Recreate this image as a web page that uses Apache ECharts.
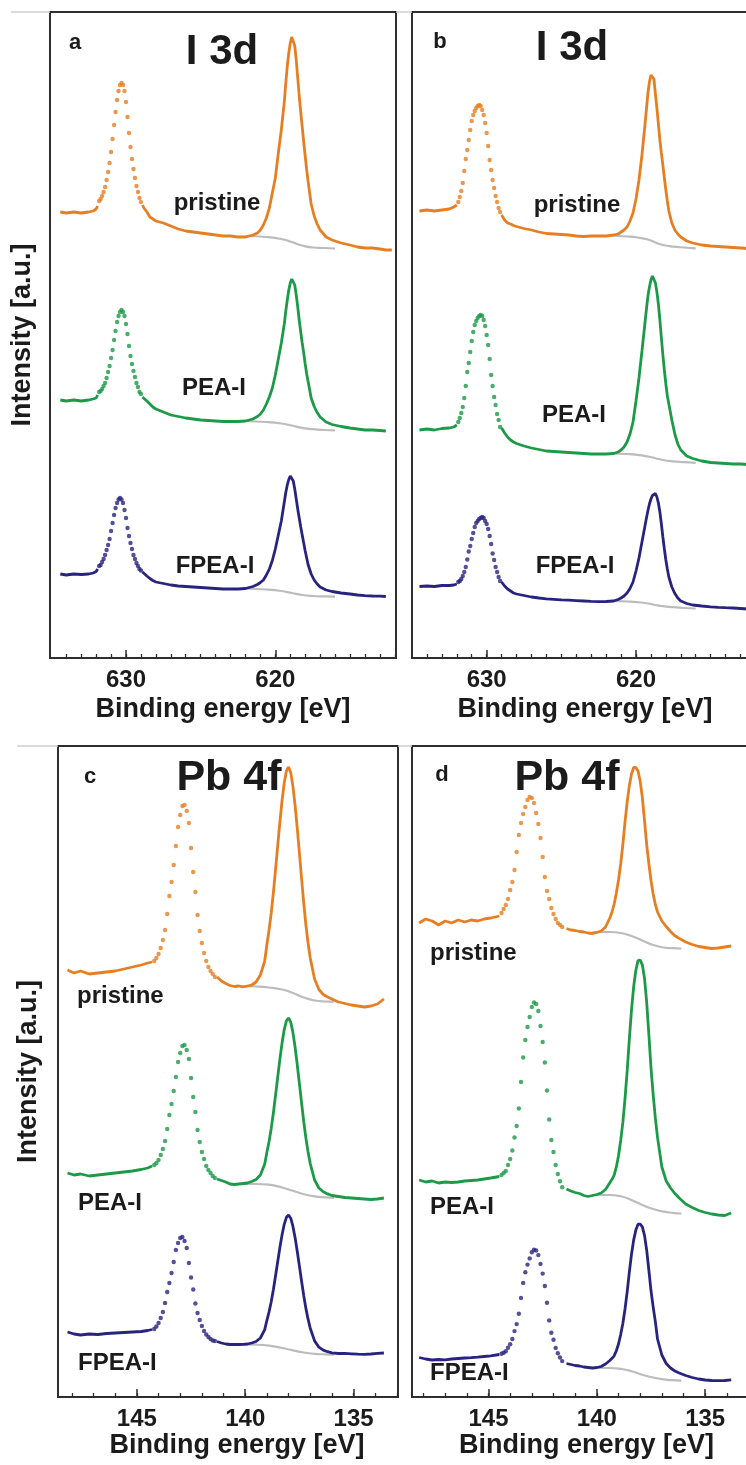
<!DOCTYPE html>
<html><head><meta charset="utf-8">
<script src="https://cdn.jsdelivr.net/npm/echarts@6/dist/echarts.min.js"></script>
<style>html,body{margin:0;padding:0;background:#fff;overflow:hidden;}#c{width:770px;height:1465px;}</style>
</head><body><div id="c"></div>
<script>
// ---------------- Panel a : I 3d ----------------
const aPreE = [634.4, 634.0, 633.5, 633.0, 632.5, 632.2, 632.0, 631.9];
const aPristinePre = [446, 445, 446, 445, 446, 447, 449, 452];
const aPeaPre = [258, 257, 258, 257, 258, 259, 260, 263];
const aFpeaPre = [84, 83, 84, 83.5, 84, 85, 86.5, 89];
const aDotE = [631.8, 631.7, 631.6, 631.5, 631.4, 631.3, 631.2, 631.1, 631.0, 630.9, 630.8, 630.7, 630.6, 630.5, 630.4, 630.3, 630.2, 630.1, 630.0, 629.9, 629.8, 629.7, 629.6, 629.5, 629.4, 629.3, 629.2, 629.1, 629.0];
const aPristineDots = [457,459,462,466,471,478,486,495,506,519,533,546,558,567,573,575,573,567,556,541,525,511,499,489,480,472,466,460,456];
const aPeaDots = [266,267,269,272,275,280,286,292,300,308,318,327,336,342,346,348,346,342,334,324,312,302,294,287,281,275,271,266,264];
const aFpeaDots = [92,93,96,99,103,108,113,119,127,135,143,150,155,158.5,160,158.5,155,148,140,130,122,115,109,103,99,95,92,89,87.5];
const aPostE = [628.9, 628.8, 628.6, 628.4, 628.2, 628.0, 627.5, 627.0, 626.5, 626.0, 625.5, 625.0, 624.5, 624.0, 623.5, 623.0, 622.5, 622.0, 621.5, 621.2, 621.0, 620.8, 620.6, 620.4, 620.2, 620.0, 619.8, 619.6, 619.4, 619.3, 619.2, 619.1, 619.0, 618.9, 618.8, 618.7, 618.6, 618.5, 618.4, 618.3, 618.2, 618.1, 618.0, 617.9, 617.8, 617.6, 617.4, 617.2, 617.0, 616.6, 616.2, 615.6, 615.0, 614.5, 614.0, 613.5, 613.0, 612.6, 612.2];
const aPristinePost = [453,450,446,441,439,437,435,432,429,427,426,425,424,423,422,422,421,421,423,425,428,433,440,450,465,480,505,528,556,575,592,605,615,621,619,612,598,580,562,546,531,516,502,488,476,454,442,434,428,421,418,415,413,411,410,410,409,408,408];
const aPeaPost = [261,259,257,254,251,249,246,243,241.5,240,239,238,237.5,237,236.5,236.5,236.5,237,239,241.5,244,248,254,261,270,283,299,315,334,347,358,368,375,379,378,373,363,351,338,326,315,305,294,284,276,260,251.5,245.5,241,236,233.5,231.5,230,229,228,228,227.5,227,null];
const aFpeaPost = [86,84.5,82,79.5,77.5,76,74.5,73,72,71.5,71,70.5,70,69.5,69,69,69,69.5,71.5,73.5,75.5,78,83,89,97.5,109,123,137,156,165.5,173,178.5,182,181,177,169,159,149,140,131,123,115,107,100,93,84,78,74,71,68,66.5,65,64,63,62.3,62,61.8,61.5,null];
const aBgE = [622.0, 620.6, 619.6, 618.9, 618.2, 617.5, 616.7, 616.0];
const aPristineBg = [422, 421, 419, 416, 412.5, 410.5, 410, 409.5];
const aPeaBg = [237, 236, 234.5, 232.5, 230.2, 228.8, 228, 227.7];
const aFpeaBg = [69.5, 68.5, 67, 65, 63, 62, 61.6, 61.4];

// ---------------- Panel b : I 3d ----------------
const bPreE = [634.5, 634.0, 633.5, 633.0, 632.5, 632.2, 632.0];
const bPristinePre = [447, 448, 447, 448, 449, 451, 453];
const bPeaPre = [228, 229, 228, 229.5, 230, 231, 233];
const bFpeaPre = [71.5, 72, 71.5, 72.5, 72.5, 73, 74];
const bDotE = [631.9, 631.8, 631.7, 631.6, 631.5, 631.4, 631.3, 631.2, 631.1, 631.0, 630.9, 630.8, 630.7, 630.6, 630.5, 630.4, 630.3, 630.2, 630.1, 630.0, 629.9, 629.8, 629.7, 629.6, 629.5, 629.4, 629.3, 629.2, 629.1];
const bPristineDots = [456,461,467,475,487,499,508,518,528,537,543,547,550,552,553,552,548,543,535,525,512,498,488,478,470,462,456,450,446];
const bPeaDots = [236,240,245,251,260,272,286,295,306,317,326,333,337,340,342,343,342,338,332,323,313,299,283,272,261,253,244,238,231];
const bFpeaDots = [76,77,79,82,86,91,98.5,106.5,112,119,125,131,135,137,139,140,141,140,137,134,129,122,114,104.5,98,91,86,81,77];
const bPostE = [629.0, 628.8, 628.6, 628.4, 628.2, 628.0, 627.5, 627.0, 626.5, 626.0, 625.5, 625.0, 624.5, 624.0, 623.5, 623.0, 622.5, 622.0, 621.5, 621.2, 621.0, 620.8, 620.6, 620.4, 620.2, 620.0, 619.8, 619.6, 619.4, 619.3, 619.2, 619.1, 619.0, 618.9, 618.8, 618.7, 618.6, 618.5, 618.4, 618.3, 618.2, 618.1, 618.0, 617.9, 617.8, 617.6, 617.4, 617.2, 617.0, 616.6, 616.2, 615.6, 615.0, 614.5, 614.0, 613.5, 613.0, 612.5, 612.0, 611.7];
const bPristinePost = [443,438,435,434,432.5,431.5,429.5,428,426,424.5,424,423.5,423,422,421.5,422,422,422,423,424,426,428,431,437,445,459,478,503,533,549,565,576,583,585,579,564,550,534,518,505,493,480,468,457,447,435,428,424,421,417,415,413,412,411.5,411,410.5,410,409.5,409,409];
const bPeaPost = [230,225,221,218,216,214.5,212,210,208.5,207,206.5,206,205.5,205,204.5,204,204,204,204.5,206,208,211,216,224,236,257,280,307,335,349,362,371,378,382,381,375,366,354,338,320,303,288,274,262,254,238,224,214,208,202,199.5,197,195.5,195,194.5,194,194,193.5,193.5,193.5];
const bFpeaPost = [76,72,69,67,65,64,62.5,61,60,59.2,58.7,58.2,57.8,57.4,57,56.6,56.4,56.5,57,58.5,60,62,65,69.5,76,87,100,116,132,140,147.5,154,159,162.5,164.5,164.5,161,155,146,134,121,109,98,89,81,71,64.5,60,57,54.5,53,52,51.2,50.7,50.3,50,49.5,49,48.8,48.7];
const bBgE = [621.7, 620.6, 619.9, 619.2, 618.7, 618.2, 617.5, 616.8, 616.0];
const bPristineBg = [422.5, 421.5, 420.5, 418.5, 415.5, 413, 411.3, 410.5, 409.7];
const bPeaBg = [204.5, 204, 203.2, 201.5, 199.8, 198, 196.6, 195.8, 195.2];
const bFpeaBg = [57.2, 56.5, 55.8, 54.5, 53, 51.8, 50.8, 50, 49.5];

// ---------------- Panel c : Pb 4f ----------------
const cPreE = [148.2, 147.9, 147.6, 147.2, 146.8, 146.4, 146.0, 145.6, 145.2, 144.8, 144.5, 144.3];
const cPristinePre = [427, 424, 426, 423, 424, 425, 426, 428, 430, 432, 434, 435];
const cPeaPre = [224, 222, 223, 221, 222, 223, 224, 225, 226, 227.5, 229, 231];
const cFpeaPre = [65, 63, 62, 63, 62.5, 63.5, 64, 64.5, 65, 65.5, 66.5, 67.5];
const cDotE = [144.2, 144.1, 144.0, 143.9, 143.8, 143.7, 143.6, 143.5, 143.4, 143.3, 143.2, 143.1, 143.0, 142.9, 142.8, 142.7, 142.6, 142.5, 142.4, 142.3, 142.2, 142.1, 142.0, 141.9, 141.8, 141.7, 141.6, 141.5, 141.4];
const cPristineDots = [436,439,443,449,457,467,483,501,515,532,551,570,582,591,592,586,574,549,525,505,482,466,454,444,436,430,426,423,420];
const cPeaDots = [232,234,237,242,248,256,268,282,293,306,320,335,344,351,352,347,338,319,300,285,267,255,245,238,231,227,224,221,219];
const cFpeaDots = [68,70.5,74,79,85,94,105,114,124,135,147,154,159,160,156,149,134,119.5,107.5,93.5,84,77,71,66,62.5,60,58,56.5,56];
const cPostE = [141.3, 141.1, 140.9, 140.7, 140.5, 140.3, 140.1, 139.9, 139.7, 139.5, 139.3, 139.1, 139.0, 138.9, 138.8, 138.7, 138.6, 138.5, 138.4, 138.3, 138.2, 138.1, 138.0, 137.9, 137.8, 137.7, 137.6, 137.5, 137.4, 137.3, 137.2, 137.1, 137.0, 136.8, 136.6, 136.4, 136.2, 136.0, 135.7, 135.4, 135.1, 134.8, 134.5, 134.2, 133.9, 133.6];
const cPristinePost = [420,416,413.5,411.5,410.5,411,410,411,412,415,422,436,452.5,467,484,504.5,527.5,551.5,575,596.5,614,626,630,624.5,611,592,569,544,518.5,494,472,454,439,418,407.5,402.5,400,398,395,393.5,392,391,390,391,393,398];
const cPeaPost = [218,216.5,215,213,212.5,213,213.5,214,215.5,217.5,222,233,244.7,255.5,268.6,284.3,301.9,320,337.8,354.1,367.4,376.2,379,374.9,364.6,350.1,332.5,313.4,294.1,275.5,258.9,245,233.4,217,209,205.2,203.1,201.5,200.5,199.5,199,198.5,198,197.5,198,199];
const cFpeaPost = [55.5,54,53,52.5,52.5,52.5,52.6,53,54,55.5,59,67.4,76.7,85.1,95.3,107.5,121.2,135.5,149.5,162.3,172.7,179.7,182,178.8,170.8,159.5,145.8,131,115.9,101.5,88.6,77.8,68.8,56.1,49.8,46.9,45.3,44.2,43.5,43.6,43.2,42.8,42.7,43,43.6,44];
const cBgE = [140.3, 139.5, 138.9, 138.3, 137.8, 137.3, 136.8, 136.3, 135.9];
const cPristineBg = [411, 410.5, 409.5, 407.5, 404, 399.5, 396.5, 395.5, 395.3];
const cPeaBg = [213, 213, 212.3, 209.5, 206.2, 202.8, 200.6, 199.6, 199.2];
const cFpeaBg = [52.6, 52.3, 51.3, 49, 46.6, 44.5, 43.2, 42.6, 42.3];

// ---------------- Panel d : Pb 4f ----------------
const dPreE = [148.2, 147.9, 147.6, 147.3, 147.0, 146.7, 146.4, 146.1, 145.8, 145.5, 145.2, 144.9, 144.5];
const dPristinePre = [474, 478, 476, 472, 476, 474, 477, 475, 477, 476, 478, 479, 481];
const dPeaPre = [217, 215, 216, 214, 215, 214.5, 215, 216, 216.5, 217, 218, 219, 220.5];
const dFpeaPre = [39.5, 38, 37, 37.5, 37.2, 38, 38.5, 39, 39.3, 39.8, 40.5, 41.2, 42.5];
const dDotE = [144.4, 144.3, 144.2, 144.1, 144.0, 143.9, 143.8, 143.7, 143.6, 143.5, 143.4, 143.3, 143.2, 143.1, 143.0, 142.9, 142.8, 142.7, 142.6, 142.5, 142.4, 142.3, 142.2, 142.1, 142.0, 141.9, 141.8, 141.7, 141.6];
const dPristineDots = [484,488,492,498,507,515,527,545,562,574,583,590,597,600,599,594,584,573,559,540,520,506,498,489,483,478,474,472,470];
const dPeaDots = [222,224,226,232,238,246.5,259.5,271,288.5,315,339.5,357,370,380,390,394.5,393,386,371,355,334.5,306.5,277.5,257,245,232,223,215.7,209.8];
const dFpeaDots = [43.3,44.3,45.8,49.2,52.7,58,65.9,72.9,83.3,99.1,114.1,124.7,132.4,138.6,144.7,147.3,146.5,141.9,133.1,123.4,111,94.2,76.6,64.3,57.2,49.1,43.8,39.5,35.9];
const dPostE = [141.4, 141.2, 141.0, 140.8, 140.6, 140.4, 140.2, 140.0, 139.8, 139.6, 139.4, 139.3, 139.2, 139.1, 139.0, 138.9, 138.8, 138.7, 138.6, 138.5, 138.4, 138.3, 138.2, 138.1, 138.0, 137.9, 137.8, 137.7, 137.6, 137.5, 137.4, 137.3, 137.2, 137.0, 136.8, 136.6, 136.4, 136.2, 135.9, 135.6, 135.3, 135.0, 134.7, 134.4, 134.1, 133.8];
const dPristinePost = [468.5,467,466.5,465.5,465,464,463.5,464.5,466,470,479,485,493,504,517,533,552.5,575,595,611.5,623,629.5,629.5,626,616,599.5,576.5,552.5,533.5,516.5,503,492.5,485,476,470.5,465.5,461.3,458.6,455,452.5,450.5,449.5,448.5,449,450,451];
const dPeaPost = [208,206,204.5,203.5,201.5,200.5,201.5,202.5,204,207.5,214.2,217.7,221.8,230.1,241.2,256.5,274.6,298.3,326.1,358.2,387.2,410.5,426.7,436.4,436.8,432.2,418.6,394.9,362.6,328.9,302.4,278.8,259.6,230,216,209,203.5,199,193,189.5,186.5,184.5,183,182,181.5,184];
const dFpeaPost = [33.5,32.5,31.5,31,30,29.5,29,29.5,30.5,33,36.5,38.7,41.2,46.3,53,62.4,73.5,88,105.2,125,142.8,157.1,166.9,172.8,172.9,170.1,161.6,146.9,127,106.2,89.9,75.4,58,42,33.5,29,26,24,21.5,19.5,18,17,16.5,16.3,16.5,17.2];
const dBgE = [140.2, 139.4, 138.9, 138.4, 137.9, 137.4, 136.9, 136.5, 136.1];
const dPristineBg = [465, 465, 464, 461, 456.5, 452, 449.5, 448.8, 448.5];
const dPeaBg = [202, 202, 200.7, 197, 192, 188, 185.3, 184.2, 183.5];
const dFpeaBg = [29, 29, 28.1, 25.8, 22.3, 19.5, 17.6, 16.8, 16.4];

// ---------------- ticks & labels ----------------
const iMajorTicks = [630, 620];
const iMinorTicks = [612,613,614,615,616,617,618,619,620,621,622,623,624,625,626,627,628,629,630,631,632,633,634];
const pbMajorTicks = [145, 140, 135];
const pbMinorTicks = [133,134,135,136,137,138,139,140,141,142,143,144,145,146,147,148];
const sampleNames = ['pristine', 'PEA-I', 'FPEA-I'];
const panelLetters = ['a', 'b', 'c', 'd'];
const coreLevels = ['I 3d', 'I 3d', 'Pb 4f', 'Pb 4f'];
const xTitle = 'Binding energy [eV]';
const yTitle = 'Intensity [a.u.]';

// ---------------- styling / layout ----------------
const FONT = '"Liberation Sans", Arial, Helvetica, sans-serif';
const COLORS = ['#e67e22', '#1c9a47', '#28237f'];
const BG_COLOR = '#bcbcbc';
const INK = '#1b1b1b';

const panels = [
  { grid: {left: 50, top: 12, width: 346, height: 646}, xmin: 611.92, xmax: 635.09, ymax: 646,
    major: iMajorTicks, minor: iMinorTicks, nameGap: 38, namePad: [0,0,0,0], yName: true, yGap: 14,
    pre: aPreE, dot: aDotE, post: aPostE, bg: aBgE,
    spectra: [[aPristinePre, aPristineDots, aPristinePost, aPristineBg],
              [aPeaPre, aPeaDots, aPeaPost, aPeaBg],
              [aFpeaPre, aFpeaDots, aFpeaPost, aFpeaBg]] },
  { grid: {left: 412, top: 12, width: 346, height: 646}, xmin: 611.83, xmax: 635.0, ymax: 646,
    major: iMajorTicks, minor: iMinorTicks, nameGap: 38, namePad: [0,0,0,0], yName: false,
    pre: bPreE, dot: bDotE, post: bPostE, bg: bBgE,
    spectra: [[bPristinePre, bPristineDots, bPristinePost, bPristineBg],
              [bPeaPre, bPeaDots, bPeaPost, bPeaBg],
              [bFpeaPre, bFpeaDots, bFpeaPost, bFpeaBg]] },
  { grid: {left: 58, top: 746, width: 340, height: 651}, xmin: 132.95, xmax: 148.64, ymax: 651,
    major: pbMajorTicks, minor: pbMinorTicks, nameGap: 33, namePad: [0,0,0,18], yName: true, yGap: 16,
    pre: cPreE, dot: cDotE, post: cPostE, bg: cBgE,
    spectra: [[cPristinePre, cPristineDots, cPristinePost, cPristineBg],
              [cPeaPre, cPeaDots, cPeaPost, cPeaBg],
              [cFpeaPre, cFpeaDots, cFpeaPost, cFpeaBg]] },
  { grid: {left: 412, top: 746, width: 340, height: 651}, xmin: 132.84, xmax: 148.53, ymax: 651,
    major: pbMajorTicks, minor: pbMinorTicks, nameGap: 33, namePad: [0,0,0,9], yName: false,
    pre: dPreE, dot: dDotE, post: dPostE, bg: dBgE,
    spectra: [[dPristinePre, dPristineDots, dPristinePost, dPristineBg],
              [dPeaPre, dPeaDots, dPeaPost, dPeaBg],
              [dFpeaPre, dFpeaDots, dFpeaPost, dFpeaBg]] }
];

const zip = (E, V) => E.map((e, i) => [e, V[i]]).filter(p => p[1] !== null && p[1] !== undefined);

const grids = [], xAxes = [], yAxes = [], series = [];
panels.forEach((p, gi) => {
  grids.push(Object.assign({show: true, borderColor: '#2e2e2e', borderWidth: 2, backgroundColor: 'transparent'}, p.grid));
  xAxes.push({
    gridIndex: gi, type: 'value', inverse: true, min: p.xmin, max: p.xmax, position: 'bottom',
    axisLine: {show: true, onZero: false, lineStyle: {color: '#2e2e2e', width: 2}},
    axisTick: {show: true, inside: true, length: 8, customValues: p.major, lineStyle: {color: '#2e2e2e', width: 1.5}},
    axisLabel: {show: true, customValues: p.major, margin: 10, color: INK, fontSize: 24, fontWeight: 'bold', fontFamily: FONT},
    splitLine: {show: false},
    name: xTitle, nameLocation: 'middle', nameGap: p.nameGap,
    nameTextStyle: {color: INK, fontSize: 27, fontWeight: 'bold', fontFamily: FONT, padding: p.namePad}
  });
  xAxes.push({
    gridIndex: gi, type: 'value', inverse: true, min: p.xmin, max: p.xmax, position: 'bottom', offset: 0,
    axisLine: {show: false},
    axisTick: {show: true, inside: true, length: 4, customValues: p.minor, lineStyle: {color: '#2e2e2e', width: 1.3}},
    axisLabel: {show: false}, splitLine: {show: false}
  });
  yAxes.push({
    gridIndex: gi, type: 'value', min: 0, max: p.ymax,
    axisLine: {show: false}, axisTick: {show: false}, axisLabel: {show: false}, splitLine: {show: false},
    name: p.yName ? yTitle : '', nameLocation: 'middle', nameRotate: 90, nameGap: p.yGap || 14,
    nameTextStyle: {color: INK, fontSize: 27, fontWeight: 'bold', fontFamily: FONT}
  });
  const xi = gi * 2;
  p.spectra.forEach((s, si) => {
    const col = COLORS[si];
    series.push({type: 'line', xAxisIndex: xi, yAxisIndex: gi, data: zip(p.bg, s[3]), smooth: 0.5,
      showSymbol: false, silent: true, z: 1, lineStyle: {color: BG_COLOR, width: 2.2}});
    series.push({type: 'line', xAxisIndex: xi, yAxisIndex: gi, data: zip(p.pre, s[0]),
      showSymbol: false, silent: true, z: 2, lineStyle: {color: col, width: 2.8}});
    series.push({type: 'line', xAxisIndex: xi, yAxisIndex: gi, data: zip(p.post, s[2]),
      showSymbol: false, silent: true, z: 2, lineStyle: {color: col, width: 2.8}});
    series.push({type: 'scatter', xAxisIndex: xi, yAxisIndex: gi, data: zip(p.dot, s[1]),
      symbol: 'circle', symbolSize: 4.4, silent: true, z: 3, itemStyle: {color: col}});
  });
});

function txt(x, y, text, size, align) {
  return {type: 'text', x: x, y: y, silent: true, z: 100,
    style: {text: text, fill: INK, font: 'bold ' + size + 'px ' + FONT,
      align: align || 'center', verticalAlign: 'middle',
      textAlign: align || 'center', textVerticalAlign: 'middle'}};
}
function hline(x1, x2, y) {
  return {type: 'line', silent: true, z: 0, shape: {x1: x1, y1: y, x2: x2, y2: y}, style: {stroke: '#cfcfcf', lineWidth: 1.5}};
}

const graphic = [
  hline(11, 50, 12), hline(396, 412, 12), hline(17, 58, 746), hline(398, 412, 746),
  txt(75, 43, panelLetters[0], 22), txt(222, 52, coreLevels[0], 42),
  txt(440, 42, panelLetters[1], 22), txt(572, 48, coreLevels[1], 42),
  txt(90, 777, panelLetters[2], 22), txt(229, 778, coreLevels[2], 43),
  txt(442, 775, panelLetters[3], 22), txt(567, 778, coreLevels[3], 43),
  txt(217, 203, sampleNames[0], 24), txt(214, 388, sampleNames[1], 24), txt(215, 566, sampleNames[2], 24),
  txt(577, 205, sampleNames[0], 24), txt(574, 415, sampleNames[1], 24), txt(575, 566, sampleNames[2], 24),
  txt(77, 996, sampleNames[0], 24, 'left'), txt(78, 1203, sampleNames[1], 24, 'left'), txt(78, 1363, sampleNames[2], 24, 'left'),
  txt(430, 953, sampleNames[0], 24, 'left'), txt(430, 1207, sampleNames[1], 24, 'left'), txt(430, 1373, sampleNames[2], 24, 'left')
];

const chart = echarts.init(document.getElementById('c'), null, {renderer: 'canvas'});
chart.setOption({
  animation: false,
  backgroundColor: '#ffffff',
  grid: grids, xAxis: xAxes, yAxis: yAxes, series: series, graphic: graphic
});
</script></body></html>
